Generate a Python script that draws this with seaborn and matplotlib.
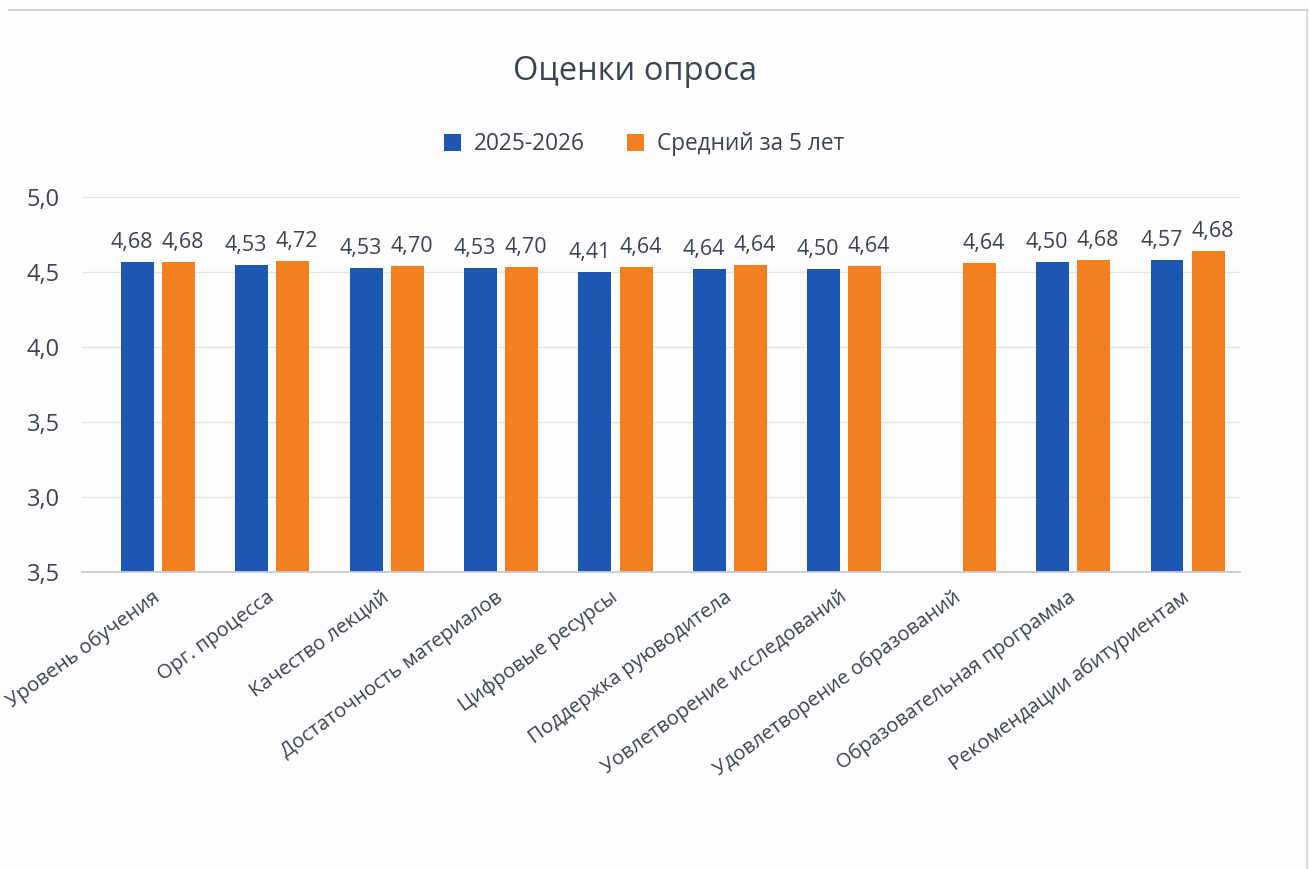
import numpy as np
import pandas as pd
import matplotlib.pyplot as plt
import seaborn as sns
from matplotlib.lines import Line2D

# данные опроса
categories = ["Уровень обучения", "Орг. процесса", "Качество лекций",
              "Достаточность материалов", "Цифровые ресурсы",
              "Поддержка руюводитела", "Уовлетворение исследований",
              "Удовлетворение образований", "Образовательная программа",
              "Рекомендации абитуриентам"]
series_names = ["2025-2026", "Средний за 5 лет"]

# высоты столбцов, как они нарисованы на исходной картинке
current_heights = [4.57, 4.55, 4.53, 4.53, 4.50, 4.52, 4.52, np.nan, 4.57, 4.58]
avg5_heights = [4.57, 4.575, 4.54, 4.535, 4.535, 4.545, 4.54, 4.56, 4.58, 4.64]

# подписи над столбцами
current_labels = ["4,68", "4,53", "4,53", "4,53", "4,41", "4,64", "4,50", "", "4,50", "4,57"]
avg5_labels = ["4,68", "4,72", "4,70", "4,70", "4,64", "4,64", "4,64", "4,64", "4,68", "4,68"]

y_ticks = [2.5, 3.0, 3.5, 4.0, 4.5, 5.0]
y_tick_labels = ["3,5", "3,0", "3,5", "4,0", "4,5", "5,0"]

df = pd.DataFrame({
    "category": categories * 2,
    "value": current_heights + avg5_heights,
    "series": [series_names[0]] * len(categories) + [series_names[1]] * len(categories),
})

text_color = "#3d4350"
blue = "#1e56b4"
orange = "#f47f20"

sns.set_theme(style="white")
plt.rcParams["font.family"] = ["Open Sans", "DejaVu Sans"]

fig = plt.figure(figsize=(13.09, 8.69), dpi=100, facecolor="#fdfdfd")
ax = fig.add_axes([0.0626, 0.342, 0.8847, 0.431])
ax.set_facecolor("#fdfdfd")

sns.barplot(data=df, x="category", y="value", hue="series",
            hue_order=series_names, palette=[blue, orange], saturation=1,
            width=0.72, gap=0.2, linewidth=0, ax=ax, legend=True)

ax.set_ylim(2.5, 5.0)
ax.set_xlim(-0.664, 9.458)
ax.set_yticks(y_ticks)
ax.set_yticklabels(y_tick_labels, fontsize=17, color=text_color)
ax.set_xlabel("")
ax.set_ylabel("")
ax.yaxis.grid(True, color="#e4e4e4", linewidth=1)
ax.set_axisbelow(True)
for s in ["top", "right", "left"]:
    ax.spines[s].set_visible(False)
ax.spines["bottom"].set_color("#c8ccd2")
ax.spines["bottom"].set_linewidth(1.3)
ax.tick_params(axis="y", length=0, pad=16)
ax.tick_params(axis="x", length=0, pad=17)

plt.setp(ax.get_xticklabels(), rotation=36, ha="right", va="center",
         rotation_mode="anchor", fontsize=14.5, color=text_color)

# подписи значений над столбцами (немного раздвинуты, как в оригинале)
label_sets = [(current_labels, -4), (avg5_labels, 3)]
for cont, (labels, dx) in zip(ax.containers, label_sets):
    for bar in cont:
        h = bar.get_height()
        if np.isnan(h):
            continue
        cx = bar.get_x() + bar.get_width() / 2
        idx = int(round(cx))
        ax.annotate(labels[idx], (cx, h), xytext=(dx, 14), textcoords="offset points",
                    ha="center", va="center", fontsize=15.5, color=text_color,
                    annotation_clip=False)

# легенда сверху
handles, labs = ax.get_legend_handles_labels()
ax.get_legend().remove()
fig.legend(handles, labs, loc="center", bbox_to_anchor=(0.492, 0.834), ncol=2,
           frameon=False, fontsize=16.3, handlelength=0.75, handleheight=0.75,
           handletextpad=0.55, columnspacing=1.9, labelcolor=text_color)

fig.text(0.485, 0.918, "Оценки опроса", ha="center", va="center",
         fontsize=23.5, color=text_color)

# тонкая рамка как на скриншоте
fig.add_artist(Line2D([0.007, 0.999], [0.988, 0.988], color="#cfcfcf", linewidth=1.2,
                      transform=fig.transFigure))
fig.add_artist(Line2D([0.9985, 0.9985], [0.0, 0.988], color="#d8d8d8", linewidth=1.2,
                      transform=fig.transFigure))

fig.savefig("out.png", dpi=100, facecolor=fig.get_facecolor())
